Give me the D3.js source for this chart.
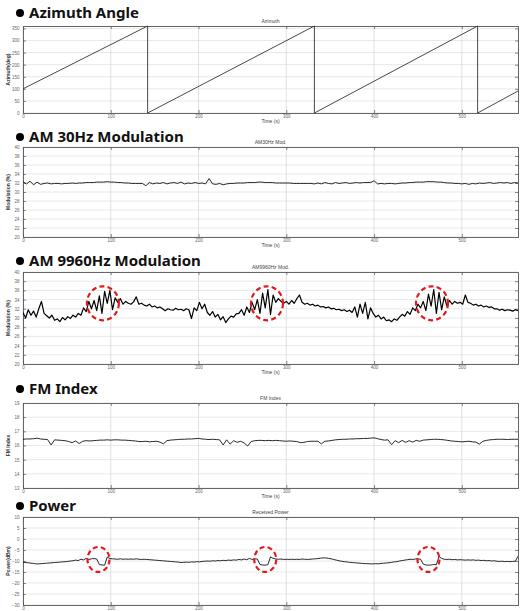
<!DOCTYPE html>
<html><head><meta charset="utf-8">
<script src="https://cdn.jsdelivr.net/npm/d3@7"></script>
<style>body{margin:0;background:#fff}svg{display:block}</style>
</head><body>
<script>
// ---------- DATA ----------
const timeTicks = [0, 100, 200, 300, 400, 500];
const timeMax = 564;

// Azimuth angle (deg) – sawtooth vertices
const azTime = [0, 142, 142, 332, 332, 518, 518, 564];
const azDeg  = [100, 360, 0, 360, 0, 360, 0, 91];
const azTicks = [0, 50, 100, 150, 200, 250, 300, 350];

// AM 30Hz modulation (%), one sample every 4 s
const am30Step = 4;
const am30 = [
 32.3,31.8,32.4,31.6,32.2,31.7,
 31.9,32.0,31.8,31.9,31.9,31.8,31.9,31.9,32.0,31.9,
 32.0,32.0,32.1,32.1,32.1,32.2,32.2,32.2,32.3,32.2,
 32.2,32.1,32.1,32.0,32.0,31.9,31.9,31.9,31.9,
 31.4,32.1,31.8,32.0,31.9,32.1,31.8,32.0,32.1,31.9,32.2,31.8,32.0,31.9,32.1,31.9,32.0,31.8,33.0,31.8,31.7,31.9,31.6,31.8,
 31.9,31.9,32.0,32.0,32.0,32.1,32.1,32.1,32.2,32.2,32.1,32.1,32.1,32.0,32.0,32.0,
 32.0,32.0,31.9,31.9,31.9,31.9,31.9,31.9,31.8,32.0,31.8,32.1,31.9,31.8,32.1,31.9,32.0,32.1,31.9,32.0,32.1,32.0,32.1,32.1,32.1,
 32.5,31.8,31.9,31.8,31.9,31.9,31.8,31.9,32.0,32.0,32.1,32.1,32.2,
 32.2,32.2,32.3,32.3,32.3,32.2,32.2,32.1,32.0,32.0,31.9,31.9,31.8,
 31.9,31.7,31.9,31.8,32.0,31.9,32.0,32.1,31.9,32.0,32.1,32.0,32.1,31.9,32.1,32.0
];
const amTicks = [20, 22, 24, 26, 28, 30, 32, 34, 36, 38, 40];

// AM 9960Hz modulation (%), one sample every 3 s
const am9960Step = 3;
const am9960 = [
 31.2,30.0,31.8,30.6,31.5,30.2,32.0,33.6,31.0,30.5,
 30.0,30.6,29.5,29.8,29.2,30.1,29.6,30.3,29.9,30.6,
 30.2,31.0,30.6,32.2,31.4,33.6,32.0,33.8,31.6,34.8,
 31.0,35.8,33.2,36.0,31.8,34.4,33.4,34.2,33.0,33.6,
 33.2,33.0,33.5,34.6,33.0,33.2,32.8,32.6,33.0,32.4,
 32.6,32.2,32.4,32.0,31.6,32.0,31.8,31.7,32.1,31.8,
 31.9,31.6,32.0,31.8,29.9,32.2,31.6,33.4,32.0,33.0,
 31.2,30.6,31.4,30.2,30.8,29.6,30.3,29.0,29.8,30.4,
 30.2,30.9,31.0,31.8,30.6,32.4,31.2,33.4,31.8,34.0,
 31.0,35.4,32.2,36.2,30.8,35.0,33.4,34.2,33.6,33.2,
 33.6,33.0,33.8,33.2,34.2,35.0,33.4,33.0,33.2,32.8,
 33.0,32.6,32.8,32.4,32.5,32.2,32.4,32.0,32.1,31.8,
 31.9,31.6,31.8,31.4,31.7,31.2,32.4,30.2,33.0,31.0,
 33.4,29.8,32.2,31.0,30.2,30.6,29.8,30.2,29.4,29.6,
 29.2,29.8,29.5,30.2,30.8,30.4,31.4,30.8,32.2,31.6,
 33.0,32.2,33.6,31.6,35.2,32.6,36.2,31.0,35.6,31.8,
 34.6,32.6,33.8,33.0,33.6,33.2,33.4,33.0,35.0,33.4,
 33.2,32.8,33.0,32.6,32.8,32.4,32.6,32.3,32.4,32.0,
 32.0,31.7,31.9,31.6,31.8,31.7,31.5,31.8,31.6
];
const am9960MarkTimes = [91, 278, 466];
const am9960MarkLevel = 33.2;

// FM index, one sample every 4 s
const fmStep = 4;
const fmIndex = [
 16.44,16.46,16.46,16.48,16.52,16.46,16.44,16.42,16.04,16.40,
 16.38,16.36,16.34,16.28,16.20,16.32,16.14,16.30,16.34,16.32,
 16.34,16.36,16.38,16.38,16.40,16.38,16.40,16.40,16.38,16.38,
 16.36,16.34,16.32,16.28,16.28,16.30,16.26,16.28,16.30,16.24,
 16.12,16.34,16.38,16.40,16.42,16.44,16.44,16.46,16.46,16.48,
 16.50,16.46,16.44,16.42,16.44,16.42,16.40,16.04,16.40,16.10,
 16.34,16.22,16.30,16.18,15.96,16.28,16.34,16.36,16.36,16.34,
 16.36,16.34,16.36,16.34,16.32,16.30,16.32,16.30,16.28,16.20,
 16.22,16.28,16.30,16.30,16.30,16.12,16.30,16.32,16.36,16.40,
 16.42,16.44,16.44,16.46,16.46,16.48,16.48,16.50,16.50,16.52,
 16.54,16.48,16.42,16.38,16.40,16.06,16.34,16.20,16.36,16.22,
 16.34,16.24,16.36,16.30,16.38,16.40,16.42,16.44,16.44,16.42,
 16.40,16.36,16.32,16.30,16.28,16.26,16.28,16.30,16.26,16.24,
 16.10,16.30,16.36,16.40,16.42,16.44,16.44,16.44,16.42,16.44,
 16.44,16.44
];
const fmTicks = [13, 14, 15, 16, 17, 18, 19];

// Received power (dBm), one sample every 3 s
const powStep = 3;
const power = [
 -10.6,-10.7,-10.8,-11.0,-11.1,-11.3,-11.3,-11.2,-11.1,-11.0,
 -10.9,-10.8,-10.7,-10.6,-10.5,-10.4,-10.3,-10.2,-10.0,-9.9,
 -9.6,-9.8,-9.2,-9.5,-8.8,-9.3,-9.0,-8.9,-9.1,-11.6,
 -11.8,-11.9,-8.2,-8.9,-9.0,-9.1,-9.2,-9.0,-9.2,-9.1,
 -9.2,-9.1,-9.2,-9.0,-9.2,-9.3,-9.2,-9.3,-9.4,-9.5,
 -9.6,-9.7,-9.8,-9.9,-10.0,-10.1,-10.2,-10.3,-10.4,-10.5,
 -10.7,-10.6,-10.5,-10.6,-10.4,-10.5,-10.3,-10.4,-10.2,-10.1,
 -10.0,-10.1,-9.9,-10.0,-9.8,-9.9,-9.7,-9.8,-9.6,-9.7,
 -9.5,-9.6,-9.3,-9.5,-9.1,-9.4,-8.8,-9.3,-9.0,-9.1,
 -11.6,-11.8,-11.9,-11.7,-8.1,-8.8,-9.1,-9.2,-9.1,-9.3,
 -9.2,-9.3,-9.2,-9.3,-9.2,-9.3,-9.1,-9.2,-9.3,-9.2,
 -9.1,-9.0,-8.9,-8.7,-8.6,-8.6,-8.8,-9.0,-9.3,-9.6,
 -9.9,-10.1,-10.3,-10.4,-10.6,-10.7,-10.8,-10.9,-11.0,-11.1,
 -11.2,-11.2,-11.3,-11.3,-11.2,-11.3,-11.1,-11.0,-10.9,-10.8,
 -10.6,-10.4,-10.3,-10.0,-9.8,-9.6,-9.4,-9.2,-9.3,-9.1,
 -9.0,-9.2,-11.4,-11.8,-11.9,-11.8,-11.6,-11.7,-8.0,-8.8,
 -9.2,-9.3,-9.2,-9.4,-9.3,-9.5,-9.4,-9.5,-9.6,-9.5,
 -9.6,-9.5,-9.7,-9.6,-9.8,-9.7,-9.9,-9.8,-10.0,-9.9,
 -10.1,-10.2,-10.1,-10.3,-10.2,-10.3,-10.2,-10.1,-7.8
];
const powTicks = [-30, -25, -20, -15, -10, -5, 0, 5, 10];
const powMarkTimes = [86, 276, 462];
const powMarkLevel = -9.3;

// ---------- DRAWING ----------
const W = 524, H = 611;
const svg = d3.select("body").append("svg").attr("width", W).attr("height", H);
const L = 23, R = 518;
const x = d3.scaleLinear().domain([0, timeMax]).range([L, R]);
const FONT = "'Liberation Sans', Arial, sans-serif";

const seq = (vals, step) => vals.map((v, i) => ({t: i * step, v}));
const pairs = (ts, vs) => ts.map((t, i) => ({t, v: vs[i]}));

const panels = [
  {title: "Azimuth Angle", sub: "Azimuth", ylab: "Azimuth(deg)", top: 26, bottom: 113, titleBase: 18,
   domain: [0, 360], ticks: azTicks, data: pairs(azTime, azDeg), color: "#333", lw: 0.9},
  {title: "AM 30Hz Modulation", sub: "AM30Hz Mod.", ylab: "Modulation (%)", top: 147, bottom: 237, titleBase: 142,
   domain: [20, 40], ticks: amTicks, data: seq(am30, am30Step), color: "#111", lw: 0.9},
  {title: "AM 9960Hz Modulation", sub: "AM9960Hz Mod.", ylab: "Modulation (%)", top: 272, bottom: 364, titleBase: 266,
   domain: [20, 40], ticks: amTicks, data: seq(am9960, am9960Step), color: "#000", lw: 1.2,
   marks: am9960MarkTimes, markLevel: am9960MarkLevel, rx: 16, ry: 17},
  {title: "FM Index", sub: "FM Index", ylab: "FM Index", top: 403, bottom: 488, titleBase: 394,
   domain: [13, 19], ticks: fmTicks, data: seq(fmIndex, fmStep), color: "#111", lw: 0.9},
  {title: "Power", sub: "Received Power", ylab: "Power(dBm)", top: 517, bottom: 605, titleBase: 511,
   domain: [-30, 10], ticks: powTicks, data: seq(power, powStep), color: "#111", lw: 0.9,
   marks: powMarkTimes, markLevel: powMarkLevel, rx: 11, ry: 12.5}
];

panels.forEach((p, k) => {
  const y = d3.scaleLinear().domain(p.domain).range([p.bottom, p.top]);
  const g = svg.append("g");

  // section heading
  g.append("circle").attr("cx", 20).attr("cy", p.titleBase - 5).attr("r", 4).attr("fill", "#000");
  g.append("text").attr("x", 29).attr("y", p.titleBase)
    .attr("font-family", "'Noto Sans', sans-serif").attr("font-weight", "bold")
    .attr("font-size", 15).attr("fill", "#111").text(p.title);

  // grid
  g.selectAll(".gy").data(p.ticks).enter().append("line")
    .attr("x1", L).attr("x2", R).attr("y1", d => y(d)).attr("y2", d => y(d))
    .attr("stroke", "#e3e3e3").attr("stroke-width", 0.8);
  g.selectAll(".gx").data(timeTicks).enter().append("line")
    .attr("x1", d => x(d)).attr("x2", d => x(d)).attr("y1", p.top).attr("y2", p.bottom)
    .attr("stroke", "#d8d8d8").attr("stroke-width", 0.8);

  // axes (inward ticks, box style)
  const axL = d3.axisLeft(y).tickValues(p.ticks).tickSize(-3).tickPadding(3.5).tickFormat(d3.format("d"));
  const axR = d3.axisRight(y).tickValues(p.ticks).tickSize(-3).tickFormat("");
  const axB = d3.axisBottom(x).tickValues(timeTicks).tickSize(-3).tickPadding(1.5).tickFormat(d3.format("d"));
  const axT = d3.axisTop(x).tickValues(timeTicks).tickSize(-3).tickFormat("");
  const style = sel => {
    sel.selectAll("path").attr("stroke", "#666").attr("stroke-width", 1);
    sel.selectAll("line").attr("stroke", "#555").attr("stroke-width", 0.7);
    sel.selectAll("text").attr("font-size", 4.5).attr("fill", "#666").attr("font-family", FONT);
  };
  g.append("g").attr("transform", `translate(${L},0)`).call(axL).call(style);
  g.append("g").attr("transform", `translate(${R},0)`).call(axR).call(style);
  g.append("g").attr("transform", `translate(0,${p.bottom})`).call(axB).call(style);
  g.append("g").attr("transform", `translate(0,${p.top})`).call(axT).call(style);

  // labels
  g.append("text").attr("x", (L + R) / 2).attr("y", p.top - 3).attr("text-anchor", "middle")
    .attr("font-family", FONT).attr("font-size", 5).attr("fill", "#444").text(p.sub);
  if (p.bottom + 10 < H) {
    g.append("text").attr("x", (L + R) / 2).attr("y", p.bottom + 10).attr("text-anchor", "middle")
      .attr("font-family", FONT).attr("font-size", 5).attr("fill", "#444").text("Time (s)");
  }
  g.append("text").attr("transform", `translate(10,${(p.top + p.bottom) / 2}) rotate(-90)`)
    .attr("text-anchor", "middle").attr("font-family", FONT).attr("font-size", 5).attr("fill", "#333")
    .attr("font-weight", "bold").text(p.ylab);

  // series
  const clipId = "clip" + k;
  svg.append("clipPath").attr("id", clipId).append("rect")
    .attr("x", L).attr("y", p.top - 1).attr("width", R - L).attr("height", p.bottom - p.top + 2);
  g.append("path").datum(p.data).attr("clip-path", `url(#${clipId})`)
    .attr("fill", "none").attr("stroke", p.color).attr("stroke-width", p.lw).attr("stroke-linejoin", "round")
    .attr("d", d3.line().x(d => x(d.t)).y(d => y(d.v)));

  // red dashed annotation circles
  if (p.marks) {
    g.selectAll(".mk").data(p.marks).enter().append("ellipse")
      .attr("cx", d => x(d)).attr("cy", y(p.markLevel)).attr("rx", p.rx).attr("ry", p.ry)
      .attr("fill", "none").attr("stroke", "#e3191c").attr("stroke-width", 2.2)
      .attr("stroke-dasharray", "5,3.2");
  }
});
</script>
</body></html>
